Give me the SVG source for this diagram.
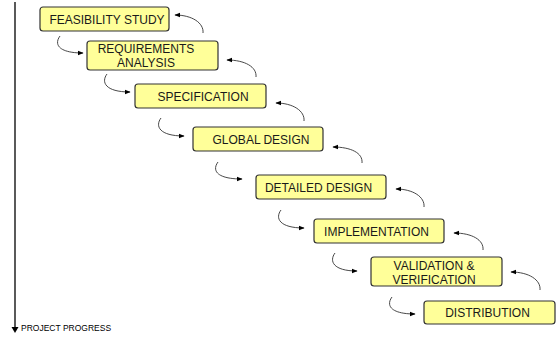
<svg xmlns="http://www.w3.org/2000/svg" width="556" height="338" viewBox="0 0 556 338">
<style>
.box{fill:#FFFF99;stroke:#333;stroke-width:1.2}
.t{font-family:"Liberation Sans",Arial,sans-serif;font-size:12px;fill:#1a1a1a;text-anchor:middle}
.c{fill:none;stroke:#333;stroke-width:0.9;marker-end:url(#ah)}
.axis{stroke:#000;stroke-width:1.3;fill:none}
.lbl{font-family:"Liberation Sans",Arial,sans-serif;font-size:8.5px;fill:#000}
</style>
<defs>
<marker id="ah" viewBox="0 0 10 10" refX="9" refY="5" markerWidth="6" markerHeight="6" markerUnits="userSpaceOnUse" orient="auto">
<path d="M0,1 L10,5 L0,9 z" fill="#000"/>
</marker>
</defs>
<rect width="556" height="338" fill="#fff"/>
<g id="axis">
<line class="axis" x1="15" y1="2" x2="15" y2="328"/>
<path d="M11.5,327 L18.5,327 L15,333 z" fill="#000"/>
<text class="lbl" x="21" y="331">PROJECT PROGRESS</text>
</g>
<g id="n1"><rect class="box" x="40" y="7" width="129" height="24" rx="3"/><text class="t" x="107" y="24">FEASIBILITY STUDY</text></g>
<g id="n2"><rect class="box" x="87" y="41" width="131" height="29" rx="3"/><text class="t" x="146" y="53">REQUIREMENTS</text><text class="t" x="146" y="67">ANALYSIS</text></g>
<g id="n3"><rect class="box" x="135" y="84" width="131" height="24" rx="3"/><text class="t" x="203" y="100.5">SPECIFICATION</text></g>
<g id="n4"><rect class="box" x="193" y="127" width="130" height="24" rx="3"/><text class="t" x="261" y="144">GLOBAL DESIGN</text></g>
<g id="n5"><rect class="box" x="256" y="175" width="130" height="24" rx="3"/><text class="t" x="318.5" y="192">DETAILED DESIGN</text></g>
<g id="n6"><rect class="box" x="314" y="219" width="130" height="24" rx="3"/><text class="t" x="376.5" y="236">IMPLEMENTATION</text></g>
<g id="n7"><rect class="box" x="371" y="257" width="131" height="29" rx="3"/><text class="t" x="434" y="270">VALIDATION &amp;</text><text class="t" x="434" y="283.5">VERIFICATION</text></g>
<g id="n8"><rect class="box" x="424" y="301" width="131" height="23" rx="3"/><text class="t" x="487.5" y="317">DISTRIBUTION</text></g>
<g id="connectors">
<path class="c" d="M60,36 C54,44 58,53 83,53"/>
<path class="c" d="M107,74 C101,82 105,92 130,92"/>
<path class="c" d="M161,118 C155,126 159,136 184,136"/>
<path class="c" d="M218,162 C212,170 216,179 242,179"/>
<path class="c" d="M281,210 C275,218 279,228 304,228"/>
<path class="c" d="M335,253 C329,261 333,271 357,271"/>
<path class="c" d="M392,297 C386,305 390,314 415,314"/>
<path class="c" d="M203,33 C204,23 192,15 175,15"/>
<path class="c" d="M256,77 C257,67 245,60 227,60"/>
<path class="c" d="M304,121 C305,111 293,103 276,103"/>
<path class="c" d="M362,163 C363,153 351,147 333,147"/>
<path class="c" d="M424,207 C425,197 413,189 396,189"/>
<path class="c" d="M483,250 C484,240 472,233 454,233"/>
<path class="c" d="M540,290 C541,280 529,272 511,272"/>
</g>
</svg>
